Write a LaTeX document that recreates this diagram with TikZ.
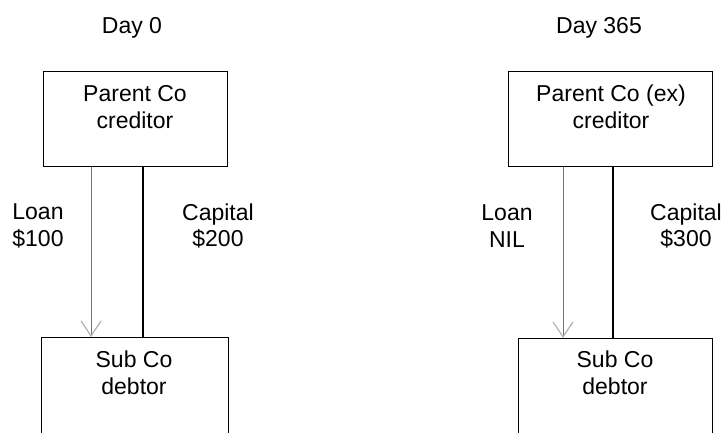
\documentclass[tikz,border=0pt]{standalone}
\usepackage{fontspec}
\setmainfont{Liberation Sans}
\usetikzlibrary{arrows.meta,positioning}

\tikzset{
	cobox/.style = {draw, line width=1.4pt, rectangle, anchor=north west, inner sep=0pt},
	cotext/.style = {align=center, inner sep=0pt, font=\fontsize{23}{26.5}\selectfont},
	loanline/.style = {draw=black!55, line width=0.9pt, -{Straight Barb[length=15pt,width=20pt,line width=1.2pt,color=black!30]}},
	capline/.style = {draw, line width=1.5pt}
}

\begin{document}
\begin{tikzpicture}[x=1pt, y=-1pt]

	\useasboundingbox (0,0) rectangle (725,432);

	% Day 0
	\node[cotext, anchor=base] (day0) at (132,33) {Day 0};
	\node[cobox, minimum width=184pt, minimum height=95pt] (parent0) at (43,71) {};
	\node[cotext] (parent0txt) at (135,107) {Parent Co\\creditor};
	\node[cobox, minimum width=187pt, minimum height=110pt] (sub0) at (41,337) {};
	\node[cotext] (sub0txt) at (134,373) {Sub Co\\debtor};
	\draw[loanline] ([xshift=48pt]parent0.south west) -- ([xshift=48pt]parent0.south west |- sub0.north);
	\draw[capline] ([xshift=100pt]parent0.south west) -- ([xshift=100pt]parent0.south west |- sub0.north);
	\node[cotext] (loan0) at (38,226) {Loan\\\$100};
	\node[cotext] (cap0) at (218,226) {Capital\\\$200};

	% Day 365
	\node[cotext, anchor=base] (day1) at (599,33) {Day 365};
	\node[cobox, minimum width=204pt, minimum height=95pt] (parent1) at (508,71) {};
	\node[cotext] (parent1txt) at (611,107) {Parent Co (ex)\\creditor};
	\node[cobox, minimum width=194pt, minimum height=110pt] (sub1) at (518,338) {};
	\node[cotext] (sub1txt) at (615,373) {Sub Co\\debtor};
	\draw[loanline] ([xshift=55pt]parent1.south west) -- ([xshift=55pt]parent1.south west |- sub1.north);
	\draw[capline] ([xshift=105pt]parent1.south west) -- ([xshift=105pt]parent1.south west |- sub1.north);
	\node[cotext] (loan1) at (507,226) {Loan\\NIL};
	\node[cotext] (cap1) at (686,226) {Capital\\\$300};

\end{tikzpicture}
\end{document}
